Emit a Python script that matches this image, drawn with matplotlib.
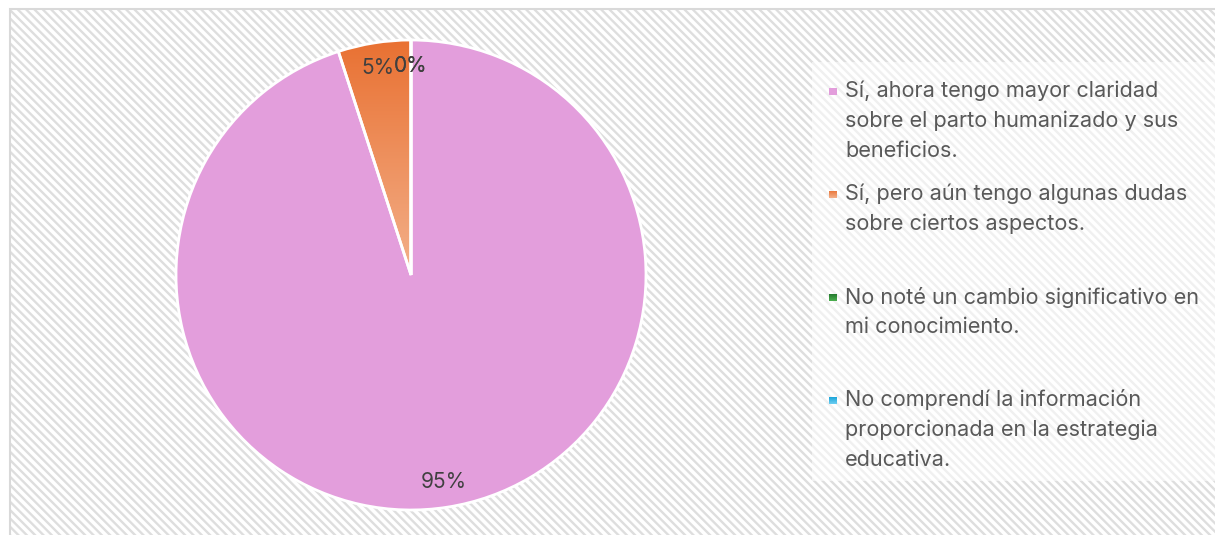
import numpy as np
import matplotlib
matplotlib.use("Agg")
from matplotlib import pyplot as plt
from matplotlib.patches import Rectangle
from matplotlib.colors import LinearSegmentedColormap

# data
labels = [
    "Sí, ahora tengo mayor claridad\nsobre el parto humanizado y sus\nbeneficios.",
    "Sí, pero aún tengo algunas dudas\nsobre ciertos aspectos.",
    "No noté un cambio significativo en\nmi conocimiento.",
    "No comprendí la información\nproporcionada en la estrategia\neducativa.",
]
values = [95, 5, 0, 0]
top_colors = ["#e39edc", "#e97132", "#196b24", "#0f9ed5"]
bottom_colors = ["#e39edc", "#f3b08a", "#4caf50", "#6fcff2"]

W, H = 1215, 535
plt.rcParams['font.family'] = ['Inter', 'DejaVu Sans']
plt.rcParams['hatch.linewidth'] = 1.7

fig = plt.figure(figsize=(W / 100, H / 100), dpi=100)
fig.patch.set_facecolor("white")


def fx(px):
    return px / W


def fy(py):
    return 1 - py / H


# hatched background + frame
bg = Rectangle((fx(10), -0.1), 1.2, fy(9) + 0.1, transform=fig.transFigure,
               facecolor="white", edgecolor="#dedede", hatch="\\\\\\\\", linewidth=0, zorder=-3)
fig.add_artist(bg)
frame = Rectangle((fx(10), -0.1), 1.2, fy(9) + 0.1, transform=fig.transFigure,
                  facecolor="none", edgecolor="#d9d9d9", linewidth=1.5, zorder=-2)
fig.add_artist(frame)
# legend area (semi transparent white)
legbox = Rectangle((fx(812), fy(481)), 1.0, fy(62) - fy(481), transform=fig.transFigure,
                   facecolor="white", edgecolor="none", alpha=0.55, zorder=-1)
fig.add_artist(legbox)

# pie
cx, cy, r = 411, 275, 235
ax = fig.add_axes([fx(cx - r), fy(cy + r), 2 * r / W, 2 * r / H])
wedges, texts, autotexts = ax.pie(
    values, colors=top_colors, startangle=90, counterclock=False, radius=1,
    autopct='%1.0f%%', pctdistance=0.89,
    wedgeprops=dict(edgecolor="white", linewidth=2, clip_on=False),
    textprops=dict(color="#404040", fontsize=15))
ax.set_aspect('equal')
ax.axis('off')

# gradient fill on the orange slice
cmap = LinearSegmentedColormap.from_list("og", [bottom_colors[1], top_colors[1]])
grad = np.linspace(0, 1, 256).reshape(-1, 1)
wedges[1].set_facecolor("none")
im = ax.imshow(grad, extent=[-1, 1, 0, 1], origin='lower', cmap=cmap, aspect='auto', zorder=0.5)
im.set_clip_path(wedges[1])
ax.set_xlim(-1, 1)
ax.set_ylim(-1, 1)
for t in autotexts:
    t.set_zorder(5)

# legend
slot = 103
for i, lab in enumerate(labels):
    y0 = 91 + i * slot
    mk = fig.add_axes([fx(829), fy(y0 + 4.5), 8 / W, 8 / H])
    mcmap = LinearSegmentedColormap.from_list("m%d" % i, [bottom_colors[i], top_colors[i]])
    mk.imshow(grad, origin='lower', cmap=mcmap, aspect='auto')
    mk.axis('off')
    for j, line in enumerate(lab.split("\n")):
        fig.text(fx(845), fy(y0 + j * 30), line, fontsize=15.6, color="#595959",
                 va='center', ha='left')

fig.savefig("out.png", dpi=100)
